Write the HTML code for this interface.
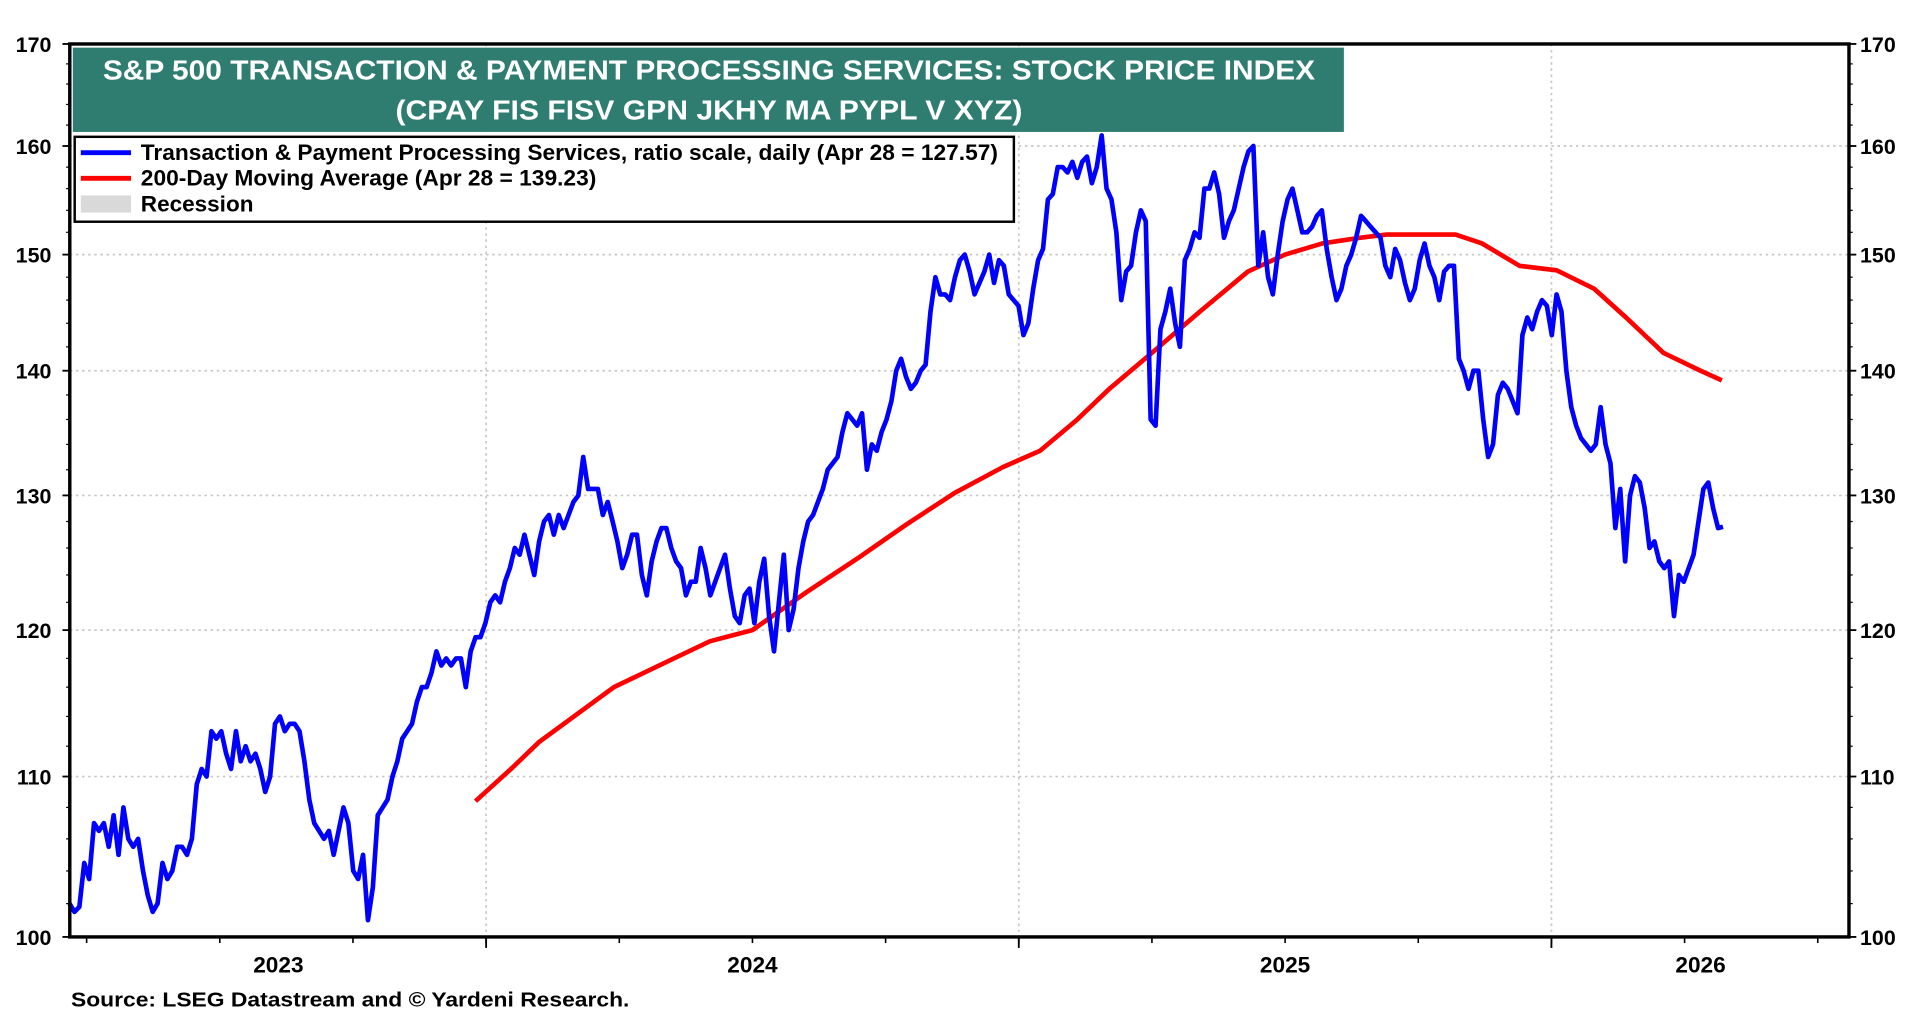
<!DOCTYPE html>
<html><head><meta charset="utf-8">
<style>
html,body{margin:0;padding:0;background:#fff;}
svg{display:block;}
text{font-family:"Liberation Sans",Arial,sans-serif;font-weight:bold;}
</style></head>
<body>
<svg id="chart" width="1920" height="1020" viewBox="0 0 1568 835" preserveAspectRatio="none" xmlns="http://www.w3.org/2000/svg">
<g id="grid"></g>
<g id="ticks"></g>
<path id="ma" fill="none" stroke="#ff0000" stroke-width="3.8" stroke-linejoin="round"></path>
<path id="price" fill="none" stroke="#0000ff" stroke-width="3.8" stroke-linejoin="round"></path>
<rect x="57" y="36" width="1453" height="731" fill="none" stroke="#000" stroke-width="2.8"/>
<g>
<rect x="59.5" y="39" width="1038" height="69" fill="#2e7d70"/>
<text x="579" y="65" fill="#fff" font-size="23" text-anchor="middle" textLength="990" lengthAdjust="spacingAndGlyphs">S&amp;P 500 TRANSACTION &amp; PAYMENT PROCESSING SERVICES: STOCK PRICE INDEX</text>
<text x="579" y="98" fill="#fff" font-size="23" text-anchor="middle" textLength="512" lengthAdjust="spacingAndGlyphs">(CPAY FIS FISV GPN JKHY MA PYPL V XYZ)</text>
</g>
<g>
<rect x="61" y="112" width="767" height="69.5" fill="#fff" stroke="#000" stroke-width="2"/>
<line x1="66" y1="125" x2="107" y2="125" stroke="#0000ff" stroke-width="4"/>
<text x="115" y="131" font-size="18" textLength="700" lengthAdjust="spacingAndGlyphs">Transaction &amp; Payment Processing Services, ratio scale, daily (Apr 28 = 127.57)</text>
<line x1="66" y1="146" x2="107" y2="146" stroke="#ff0000" stroke-width="4"/>
<text x="115" y="152" font-size="18" textLength="372" lengthAdjust="spacingAndGlyphs">200-Day Moving Average (Apr 28 = 139.23)</text>
<rect x="66" y="160" width="41" height="14" fill="#d9d9d9"/>
<text x="115" y="173" font-size="18" textLength="92" lengthAdjust="spacingAndGlyphs">Recession</text>
</g>
<text x="58" y="824" font-size="17" textLength="456" lengthAdjust="spacingAndGlyphs">Source: LSEG Datastream and © Yardeni Research.</text>
</svg>
<script>
const yTicks=[100,110,120,130,140,150,160,170];
const yearLabels=["2023","2024","2025","2026"];
const yearLabelDates=[2023.61,2024.5,2025.5,2026.28];
const priceStart=2023.218;
const priceEnd=2026.322;
const priceValues=[102,101.5,101.8,104.5,103.5,107,106.5,107,105.5,107.5,105,108,106,105.5,106,104,102.5,101.5,102,104.5,103.5,104,105.5,105.5,105,106,109.5,110.5,110,113,112.5,113,111.5,110.5,113,111,112,111,111.5,110.5,109,110,113.5,114,113,113.5,113.5,113,111,108.5,107,106.5,106,106.5,105,106.5,108,107,104,103.5,105,101,103,107.5,108,108.5,110,111,112.5,113,113.5,115,116,116,117,118.5,117.5,118,117.5,118,118,116,118.5,119.5,119.5,120.5,122,122.5,122,123.5,124.5,126,125.5,127,125.5,124,126.5,128,128.5,127,128.5,127.5,128.5,129.5,130,133,130.5,130.5,130.5,128.5,129.5,128,126.5,124.5,125.5,127,127,124,122.5,125,126.5,127.5,127.5,126,125,124.5,122.5,123.5,123.5,126,124.5,122.5,123.5,124.5,125.5,123,121,120.5,122.5,123,120.5,123.5,125.2,121,118.5,122,125.5,120,121.5,124.5,126.5,128,128.5,129.5,130.5,132,132.5,133,135,136.5,136,135.5,136.5,132,134,133.5,135,136,137.5,140,141,139.5,138.5,139,140,140.5,145,148,146.5,146.5,146,148,149.5,150,148.5,146.5,147.5,148.5,150,147.5,149.5,149,146.5,146,145.5,143,144,147,149.5,150.5,155,155.5,158,158,157.5,158.5,157,158.5,159,156.5,158,161,156,155,152,146,148.5,149,152,154,153,136,135.5,143.5,145,147,144,142,149.5,150.5,152,151.5,156,156,157.5,155.5,151.5,153,154,156,158,159.5,160,149,152,148,146.5,150,153,155,156,154,152,152,152.5,153.5,154,150.5,148,146,147,149,150,151.5,153.5,153,152.5,152,151.5,149,148,150.5,149.5,147.5,146,147,149.5,151,149,148,146,148.5,149,149,141,140,138.5,140,140,136,133,134,138,139,138.5,137.5,136.5,143,144.5,143.5,145,146,145.5,143,146.5,145,140,137,135.5,134.5,134,133.5,134,137,134,132.5,127.5,130.5,125,130,131.5,131,129,126,126.5,125,124.5,125,121,124,123.5,124.5,125.5,128,130.5,131,129,127.5,127.6];
const maDates=[2023.98,2024.05,2024.10,2024.24,2024.33,2024.42,2024.50,2024.60,2024.70,2024.79,2024.88,2024.97,2025.04,2025.11,2025.17,2025.25,2025.34,2025.43,2025.50,2025.57,2025.64,2025.69,2025.82,2025.87,2025.94,2026.01,2026.08,2026.14,2026.21,2026.28,2026.32];
const maValues=[108.4,110.6,112.3,116,117.6,119.2,120,122.7,125.3,127.8,130.2,132.2,133.5,136,138.5,141.5,145,148.5,150,151,151.5,151.8,151.8,151,149,148.6,147,144.5,141.5,140,139.2];

const NS="http://www.w3.org/2000/svg";
const X0=57,X1=1510,Y0=36,Y1=767;
function xScale(t){return 397+(t-2024)*435;}
function yScale(v){return Y1-(Y1-Y0)*Math.log(v/100)/Math.log(1.7);}
function mk(tag,attrs,parent){const e=document.createElementNS(NS,tag);for(const k in attrs)e.setAttribute(k,attrs[k]);parent.appendChild(e);return e;}
const svg=document.getElementById('chart');
const grid=document.getElementById('grid');
const ticks=document.getElementById('ticks');
yTicks.forEach(v=>{
  const y=yScale(v);
  if(v>100&&v<170){
    const gl=mk('line',{x1:X0,x2:X1,y1:y,y2:y,stroke:'#c8c8c8','stroke-width':1.4,'stroke-dasharray':'2 3'},grid);
    
    
  }
  const l=mk('text',{x:42,y:y+6.5,'font-size':17.5,'text-anchor':'end'},svg);
  l.textContent=v;
  
  
  const r=mk('text',{x:1519,y:y+6.5,'font-size':17.5,'text-anchor':'start'},svg);
  r.textContent=v;
  
  
  mk('line',{x1:X0-6,x2:X0,y1:y,y2:y,stroke:'#000','stroke-width':1.5},ticks);
  mk('line',{x1:X1,x2:X1+6,y1:y,y2:y,stroke:'#000','stroke-width':1.5},ticks);
});
for(let v=102;v<170;v+=2){if(v%10===0)continue;const y=yScale(v);
  mk('line',{x1:X0-3,x2:X0,y1:y,y2:y,stroke:'#000','stroke-width':1},ticks);
  mk('line',{x1:X1,x2:X1+3,y1:y,y2:y,stroke:'#000','stroke-width':1},ticks);}
[2024,2025,2026].forEach(t=>{const x=xScale(t);
  const gl=mk('line',{x1:x,x2:x,y1:Y0,y2:Y1,stroke:'#c8c8c8','stroke-width':1.4,'stroke-dasharray':'2 3'},grid);
  
  
  mk('line',{x1:x,x2:x,y1:Y1,y2:Y1+9,stroke:'#000','stroke-width':1.5},ticks);});
for(let t=2023.25;t<2026.6;t+=0.25){const x=xScale(t);if(x<X0||x>X1)continue;
  mk('line',{x1:x,x2:x,y1:Y1,y2:Y1+5,stroke:'#000','stroke-width':1.3},ticks);}
yearLabels.forEach((s,i)=>{const t=mk('text',{x:xScale(yearLabelDates[i]),y:796,'font-size':18.5,'text-anchor':'middle'},svg);
  t.textContent=s;
  
  });
const n=priceValues.length;
let d='';
priceValues.forEach((v,i)=>{const t=priceStart+(priceEnd-priceStart)*i/(n-1);d+=(i?'L':'M')+xScale(t).toFixed(1)+','+yScale(v).toFixed(1);});
document.getElementById('price').setAttribute('d',d);
let d2='';
maValues.forEach((v,i)=>{d2+=(i?'L':'M')+xScale(maDates[i]).toFixed(1)+','+yScale(v).toFixed(1);});
document.getElementById('ma').setAttribute('d',d2);
</script>
</body></html>
